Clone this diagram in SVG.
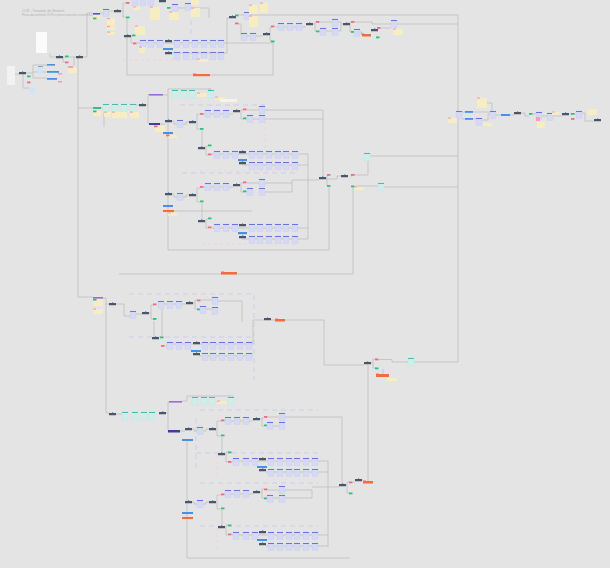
<svg xmlns="http://www.w3.org/2000/svg" width="610" height="568" viewBox="0 0 610 568">
<style>
.c{fill:none;stroke:#bcbcbc;stroke-width:0.75}
.dl{fill:none;stroke:#c5c7ea;stroke-width:0.7;stroke-dasharray:5 4}
.dp{fill:none;stroke:#efc9d0;stroke-width:0.6;stroke-dasharray:3 3}
.st{fill:#f6edc2}
.pk{fill:#f2a1b2}
.bb{fill:#4a8ee8}
.or{fill:#f26c3c}
.pu{fill:#9a6be0}
.nv{fill:#3f3f96}
.lb{fill:#cfe5f6}
.t{font-family:"Liberation Sans",Arial,sans-serif;fill:#b3b3b3}
</style>
<defs>
<g id="cd"><rect width="6" height="7.5" fill="#d6d9f4" stroke="#c3c8f0" stroke-width="0.3"/><rect width="6" height="0.9" fill="#5c69de"/></g>
<g id="cy"><rect width="6" height="8" fill="#cfeeea" stroke="#b3e2dc" stroke-width="0.3"/><rect width="6" height="0.9" fill="#3cb4a9"/></g>
<g id="dk"><rect width="7" height="2.2" rx="0.3" fill="#4d5564"/><rect x="3" y="-0.7" width="1.2" height="0.8" fill="#3d86e8"/></g>
<rect id="rd" width="3.5" height="1.8" fill="#ef6b85"/>
<rect id="gn" width="3.5" height="1.8" fill="#2fbf7f"/>
</defs>
<rect width="610" height="568" fill="#e4e4e4"/>
<text class="t" x="22" y="11.5" font-size="3.4">OCR - Template de Network</text>
<text class="t" x="22" y="15.5" font-size="3">Fluxo documental OCR e processamento automático</text>

<g id="connectors">
<path class="c" d="M15,74H19M25,73H33V65H47M33,73V78H47M33,72H47M23,74V88H29"/>
<path class="c" d="M50,53V57H56M62,57H76M82,57H87V13H93M63,57V62H65M74,57V66M78,58V297H93M78,108H93"/>
<path class="c" d="M100,13H103M108,11H114M121,11H123V3H126M123,11V17H126M127,18V75H273V42M130,36H132M131,36V43H133M137,43H273M172,53H227V18H229M177,8H209V18"/>
<path class="c" d="M238,15H458V362H414M238,24H241V35H241M247,36H250M256,36H263M268,34H270V27H272M270,34V41H272"/>
<path class="c" d="M276,27H306M313,24H315V22H316M315,24V31H316M320,22H332M325,31H332M338,22H341V24H343M338,31H341V24M349,24H350V22H351M350,24V32H351M355,22H372V24H458M359,32H362V35M377,28H391"/>
<path class="dp" d="M123,60H223"/>
<path class="dl" d="M191,20V35"/>
<path class="c" d="M101,108H103M136,105H139M146,105H148V123H149M148,105V94.5H149M104,110V127M163,95H168M168,89V250H329V187M168,89H211V90M208,89H211"/>
<path class="c" d="M160,124H165M171,121H174V124H177M183,124H186V122H189M195,122H197V114H200M197,122V129H200M204,114H233M239,111H241V110H243M241,111V119H243M247,110H259M247,119H259M265,110H323V177M265,119H323"/>
<path class="c" d="M202,130V147M205,148H206V146H208M206,148V155H208M212,154H308V239M242,165H308"/>
<path class="c" d="M171,194H174V197H177M183,197H186V195H189M195,195H197V188H200M197,195V202H200M204,187H233M239,185H241V183H243M241,185V192H243M247,183H292M265,192H292V180H319M174,211H252"/>
<path class="c" d="M202,203V220M205,221H206V219H208M206,221V228H208M212,228H308M242,239H308"/>
<path class="c" d="M326,178H327V175H328M327,178V186H328M326,179H337V176H341M350,176H352M354,175H368V161M370,156H458M356,186H378M384,187H458M353,187V274H119"/>
<path class="dl" d="M180,105H265M182,173H298"/>
<path class="dp" d="M200,171H298M202,244H300M265,115V150"/>
<path class="c" d="M103,298H106V413H109M106,304H109M116,304H124V316H130M136,314H142M148,313H151V305H154M151,313V319H154M158,304H186M193,303H195V300H197M195,303V309H197M206,309H212M201,300H218M218,301H242V322M154,321V337M162,309V337M165,346H167M166,344H250M199,356H250M250,344H253V320H264M250,356H253M271,320H275M285,320H324V365H364"/>
<path class="dl" d="M129,294H254V380M129,337H254"/>
<path class="c" d="M371,363H373V359H375M373,363V368H375M379,359.5H392V362H408M383,369V374M368,365V481"/>
<path class="c" d="M116,414H122M166,413H168V402H169M168,413V431M182,401H187V396H233V398M180,431H185M191,429H194V431H197M203,431H206V429H209M215,429H217V421H221M217,429V436H221M225,421H253M259,419H262V418H264M262,419V426H264M268,417H342V484M273,426H279M187,441V558H350"/>
<path class="c" d="M222,437V453M225,454H226V452H228M226,454V462H228M232,461H328M266,472H328M328,461V547"/>
<path class="c" d="M191,502H194V504H197M203,504H206V502H209M215,502H217V495H221M217,502V509H221M225,494H253M259,492H262V489H264M262,492V498H264M268,490H312V498M273,498H312M312,487H339M346,485H347V482H349M347,485V493H349M353,482H355M362,480H363"/>
<path class="c" d="M222,510V526M225,527H226V525H228M226,527V535H228M232,535H328M266,546H328"/>
<path class="dl" d="M200,410H318M196,453H318M200,483H318M200,526H318"/>
<path class="dl" d="M196,418V470"/>
<path class="dp" d="M217,455V477M217,528V550"/>
<path class="c" d="M462,112H465M462,119H465M473,112H490M473,119H476M482,120H488V114H490M487,103H492V111M495,115H501M510,115H514M520,113H525V116H529M533,114H536M541,116H547M552,116H562M570,114H571M575,114H576M582,113H585V121H594"/>
</g>

<g id="n-left">
<rect x="7" y="66" width="8" height="19" fill="#f2f2f2"/>
<rect x="36" y="32" width="11" height="21" fill="#fbfbfb"/>
<use href="#dk" x="19" y="72"/>
<use href="#gn" x="27" y="75.5"/>
<use href="#rd" x="27" y="81.5"/>
<rect class="lb" x="29" y="87" width="6" height="6"/>
<rect class="lb" x="38" y="66" width="5" height="8"/>
<rect x="38" y="66" width="5" height="0.8" fill="#4a9fe0"/>
<rect class="bb" x="47" y="64" width="8" height="1.6"/>
<rect class="bb" x="47" y="71" width="12" height="1.8"/>
<rect class="bb" x="47" y="78" width="10" height="1.8"/>
<rect class="pk" x="58" y="73" width="4" height="1.6"/>
<rect class="pk" x="58" y="81" width="4" height="1.6"/>
<use href="#dk" x="56" y="56"/>
<use href="#gn" x="65" y="55.5"/>
<use href="#dk" x="76" y="56"/>
<use href="#rd" x="65" y="61.5"/>
<rect class="pk" x="68" y="66" width="5" height="2"/>
<rect class="st" x="68" y="68" width="9" height="5"/>
</g>

<g id="n-a">
<rect x="93" y="13" width="7" height="1.6" fill="#4a58c8"/>
<rect class="st" x="93" y="15" width="7" height="4"/>
<use href="#gn" x="93" y="17.5"/>
<use href="#cd" x="103" y="9"/>
<use href="#dk" x="114" y="10"/>
<rect class="st" x="107" y="18" width="8" height="7"/><rect class="pk" x="107" y="18" width="3" height="1.2"/>
<rect class="st" x="107" y="26" width="8" height="4"/><rect class="pk" x="107" y="26" width="3" height="1.2"/>
<rect class="st" x="107" y="32" width="8" height="3"/><rect class="pk" x="107" y="31.5" width="3" height="1.2"/>
<use href="#rd" x="126" y="2"/>
<use href="#gn" x="126" y="16.5"/>
<use href="#cd" x="132" y="-2"/><use href="#cd" x="140" y="-2"/><use href="#cd" x="148" y="-2"/>
<use href="#dk" x="159" y="0"/>
<rect class="st" x="133" y="7" width="7" height="3"/><rect class="pk" x="133" y="6.5" width="3" height="1"/>
<rect class="st" x="150" y="7" width="10" height="13"/><rect class="pk" x="150" y="6.5" width="3" height="1.2"/>
<use href="#gn" x="167" y="7"/>
<use href="#cd" x="172" y="4"/>
<rect class="st" x="169" y="12" width="10" height="8"/><rect class="pk" x="169" y="11.5" width="3" height="1.2"/>
<use href="#cd" x="185" y="3"/>
<rect class="st" x="191" y="0" width="8" height="5"/>
<rect class="st" x="191" y="8" width="9" height="9"/><rect class="pk" x="191" y="7.5" width="3" height="1.2"/>
<rect class="st" x="135" y="26" width="10" height="9"/><rect class="pk" x="135" y="25.5" width="3" height="1.2"/>
<use href="#dk" x="124" y="35"/>
<use href="#gn" x="132" y="34.5"/>
<use href="#rd" x="133" y="42.5"/>
</g>

<g id="n-a-rows">
<use href="#cd" x="140" y="40"/><use href="#cd" x="148" y="40"/><use href="#cd" x="157" y="40"/>
<use href="#dk" x="165" y="40"/>
<use href="#cd" x="174" y="40"/><use href="#cd" x="183" y="40"/><use href="#cd" x="192" y="40"/><use href="#cd" x="201" y="40"/><use href="#cd" x="210" y="40"/><use href="#cd" x="218" y="40"/>
<rect class="bb" x="163" y="48" width="10" height="2"/>
<use href="#dk" x="165" y="52"/>
<use href="#cd" x="174" y="52"/><use href="#cd" x="183" y="52"/><use href="#cd" x="192" y="52"/><use href="#cd" x="201" y="52"/><use href="#cd" x="210" y="52"/><use href="#cd" x="218" y="52"/>
<rect class="st" x="139" y="47" width="6" height="6"/><rect class="pk" x="139" y="46.5" width="3" height="1.2"/>
<rect class="st" x="198" y="59" width="10" height="3"/><rect class="pk" x="197" y="58.5" width="3" height="1"/>
<rect class="or" x="193" y="74" width="17" height="2.2"/><rect x="193" y="73.5" width="3" height="1" fill="#ef6b85"/>
</g>

<g id="n-a-right">
<use href="#dk" x="229" y="16"/>
<use href="#gn" x="235" y="14.5"/>
<use href="#rd" x="235" y="22.5"/>
<use href="#cd" x="244" y="12"/>
<rect class="st" x="249" y="5" width="9" height="9"/><rect class="pk" x="249" y="4.5" width="3" height="1.2"/>
<rect class="st" x="260" y="3" width="8" height="10"/><rect class="pk" x="260" y="2.5" width="3" height="1.2"/>
<rect class="st" x="249" y="16" width="9" height="11"/><rect class="pk" x="249" y="15.5" width="3" height="1.2"/>
<use href="#cd" x="241" y="33"/><use href="#cd" x="250" y="33"/>
<use href="#dk" x="263" y="33"/>
<use href="#rd" x="271" y="25.5"/>
<use href="#gn" x="271" y="40.5"/>
<use href="#cd" x="278" y="23"/><use href="#cd" x="287" y="23"/><use href="#cd" x="296" y="23"/>
<use href="#dk" x="306" y="23"/>
<use href="#rd" x="316" y="21"/>
<use href="#gn" x="316" y="30.5"/>
<use href="#cd" x="320" y="28"/>
<use href="#cd" x="332" y="19"/><use href="#cd" x="332" y="28"/>
<use href="#dk" x="343" y="23"/>
<use href="#rd" x="351" y="21"/>
<use href="#gn" x="351" y="31"/>
<use href="#cd" x="354" y="29"/>
<rect class="or" x="362" y="34" width="9" height="2.5"/><rect x="361" y="33.5" width="3" height="1" fill="#ef6b85"/>
<use href="#dk" x="371" y="29"/>
<use href="#rd" x="377" y="27"/>
<use href="#gn" x="376" y="36.5"/>
<use href="#cd" x="391" y="20"/>
<rect class="st" x="393" y="29" width="10" height="6"/><rect class="pk" x="393" y="28.5" width="3" height="1.2"/>
</g>

<g id="n-b-head">
<rect x="93" y="107" width="8" height="2" fill="#49b391"/>
<rect class="st" x="93" y="111" width="8" height="5"/><use href="#gn" x="93" y="110.5"/>
<use href="#cy" x="103" y="104"/><use href="#cy" x="112" y="104"/><use href="#cy" x="121" y="104"/><use href="#cy" x="130" y="104"/>
<rect class="st" x="104" y="112" width="7" height="5"/><rect class="pk" x="104" y="111.5" width="3" height="1.2"/>
<rect class="st" x="112" y="112" width="15" height="6"/><rect class="pk" x="112" y="111.5" width="3" height="1.2"/>
<rect class="st" x="130" y="112" width="9" height="6"/><rect class="pk" x="130" y="111.5" width="3" height="1.2"/>
<use href="#dk" x="139" y="104"/>
<rect class="pu" x="149" y="94" width="14" height="1.6"/>
<rect class="nv" x="149" y="123" width="11" height="2"/>
<rect class="st" x="155" y="126" width="10" height="6"/><use href="#rd" x="154" y="125.5"/>
<use href="#cy" x="172" y="90"/><use href="#cy" x="181" y="90"/><use href="#cy" x="189" y="90"/><use href="#cy" x="208" y="90"/>
<rect class="st" x="197" y="93" width="10" height="4"/><rect class="pk" x="197" y="92.5" width="3" height="1.2"/>
<rect class="st" x="215" y="97" width="10" height="3"/><rect class="pk" x="215" y="96.5" width="3" height="1.2"/>
<rect x="220" y="99" width="17" height="3" fill="#f6f3ec"/>
</g>

<g id="n-b1">
<use href="#dk" x="165" y="120"/>
<use href="#cd" x="177" y="120"/>
<use href="#dk" x="189" y="121"/>
<use href="#rd" x="200" y="113"/>
<use href="#gn" x="200" y="128"/>
<use href="#cd" x="205" y="110"/><use href="#cd" x="214" y="110"/><use href="#cd" x="223" y="110"/>
<use href="#dk" x="233" y="110"/>
<use href="#rd" x="243" y="108.5"/>
<use href="#gn" x="243" y="117.5"/>
<use href="#cd" x="259" y="106"/><use href="#cd" x="259" y="115"/><use href="#cd" x="247" y="115"/>
<rect class="bb" x="163" y="132" width="10" height="2"/>
<rect class="st" x="168" y="135" width="9" height="3"/><use href="#rd" x="166" y="134.5"/>
<use href="#dk" x="198" y="147"/>
<use href="#gn" x="208" y="144.5"/>
<use href="#rd" x="208" y="153.5"/>
<use href="#cd" x="214" y="151"/><use href="#cd" x="223" y="151"/><use href="#cd" x="232" y="151"/>
<use href="#dk" x="239" y="151"/>
<use href="#cd" x="249" y="151"/><use href="#cd" x="257" y="151"/><use href="#cd" x="266" y="151"/><use href="#cd" x="275" y="151"/><use href="#cd" x="283" y="151"/><use href="#cd" x="292" y="151"/>
<rect class="bb" x="238" y="159" width="9" height="2.2"/>
<use href="#dk" x="239" y="162"/>
<use href="#cd" x="249" y="162"/><use href="#cd" x="257" y="162"/><use href="#cd" x="266" y="162"/><use href="#cd" x="275" y="162"/><use href="#cd" x="283" y="162"/><use href="#cd" x="292" y="162"/>
</g>

<g id="n-b2">
<use href="#dk" x="165" y="193"/>
<use href="#cd" x="177" y="193"/>
<use href="#dk" x="189" y="194"/>
<use href="#rd" x="200" y="186"/>
<use href="#gn" x="200" y="200.5"/>
<use href="#cd" x="205" y="183"/><use href="#cd" x="214" y="183"/><use href="#cd" x="223" y="183"/>
<use href="#dk" x="233" y="184"/>
<use href="#rd" x="243" y="181.5"/>
<use href="#gn" x="243" y="190.5"/>
<use href="#cd" x="259" y="179"/><use href="#cd" x="259" y="188"/><use href="#cd" x="247" y="188"/>
<rect class="bb" x="163" y="205" width="10" height="2"/>
<rect class="or" x="163" y="210" width="11" height="2"/>
<rect class="st" x="168" y="213" width="9" height="3"/><rect class="pk" x="168" y="212.5" width="3" height="1"/>
<use href="#dk" x="198" y="220"/>
<use href="#gn" x="208" y="217.5"/>
<use href="#rd" x="208" y="226.5"/>
<use href="#cd" x="214" y="224"/><use href="#cd" x="223" y="224"/><use href="#cd" x="232" y="224"/>
<use href="#dk" x="239" y="224"/>
<use href="#cd" x="249" y="224"/><use href="#cd" x="257" y="224"/><use href="#cd" x="266" y="224"/><use href="#cd" x="275" y="224"/><use href="#cd" x="283" y="224"/><use href="#cd" x="292" y="224"/>
<rect class="bb" x="238" y="232" width="9" height="2.2"/>
<use href="#dk" x="239" y="236"/>
<use href="#cd" x="249" y="236"/><use href="#cd" x="257" y="236"/><use href="#cd" x="266" y="236"/><use href="#cd" x="275" y="236"/><use href="#cd" x="283" y="236"/><use href="#cd" x="292" y="236"/>
<rect class="or" x="221" y="272" width="16" height="2.5"/><rect x="221" y="271.5" width="3" height="1" fill="#ef6b85"/>
</g>

<g id="n-mid">
<use href="#dk" x="319" y="177"/>
<use href="#rd" x="327" y="174"/>
<use href="#gn" x="327" y="185"/>
<use href="#dk" x="341" y="175"/>
<use href="#rd" x="351" y="174"/>
<use href="#gn" x="351" y="185.5"/>
<rect class="st" x="354" y="187" width="10" height="3"/><rect class="pk" x="354" y="186.5" width="3" height="1"/>
<use href="#cy" x="364" y="153"/>
<use href="#cy" x="378" y="183"/>
</g>

<g id="n-c">
<rect class="pu" x="93" y="297" width="10" height="1.6"/>
<rect class="st" x="93" y="299" width="10" height="3.5"/><use href="#gn" x="93" y="298.8"/>
<rect class="st" x="93" y="303" width="10" height="3"/>
<rect class="st" x="93" y="309" width="10" height="5"/><rect class="pk" x="93" y="308.5" width="3" height="1.2"/>
<use href="#dk" x="109" y="303"/>
<use href="#cd" x="130" y="311"/>
<use href="#dk" x="142" y="312"/>
<use href="#rd" x="153" y="303.5"/>
<use href="#gn" x="153" y="318"/>
<use href="#cd" x="158" y="301"/><use href="#cd" x="167" y="301"/><use href="#cd" x="176" y="301"/>
<use href="#dk" x="186" y="302"/>
<use href="#rd" x="197" y="299.5"/>
<use href="#gn" x="197" y="308.5"/>
<use href="#cd" x="200" y="306"/>
<use href="#cd" x="212" y="297"/><use href="#cd" x="212" y="307"/>
<use href="#dk" x="152" y="337"/>
<use href="#gn" x="160" y="336.5"/>
<use href="#rd" x="161" y="345"/>
<use href="#cd" x="167" y="342"/><use href="#cd" x="176" y="342"/><use href="#cd" x="185" y="342"/>
<use href="#dk" x="193" y="342"/>
<use href="#cd" x="202" y="342"/><use href="#cd" x="210" y="342"/><use href="#cd" x="219" y="342"/><use href="#cd" x="228" y="342"/><use href="#cd" x="237" y="342"/><use href="#cd" x="246" y="342"/>
<rect class="bb" x="191" y="350" width="10" height="2"/>
<use href="#dk" x="193" y="353"/>
<use href="#cd" x="202" y="353"/><use href="#cd" x="210" y="353"/><use href="#cd" x="219" y="353"/><use href="#cd" x="228" y="353"/><use href="#cd" x="237" y="353"/><use href="#cd" x="246" y="353"/>
<use href="#dk" x="264" y="318"/>
<rect class="or" x="275" y="319" width="10" height="2.5"/><rect x="275" y="318.5" width="3" height="1" fill="#ef6b85"/>
</g>

<g id="n-center">
<use href="#dk" x="364" y="362"/>
<use href="#rd" x="375" y="358.5"/>
<use href="#gn" x="375" y="367.5"/>
<rect class="or" x="376" y="374" width="13" height="3"/><rect x="376" y="373.5" width="3" height="1" fill="#ef6b85"/>
<rect class="st" x="387" y="378" width="10" height="3"/>
<use href="#cy" x="408" y="358"/>
</g>

<g id="n-d-head">
<use href="#dk" x="109" y="413"/>
<use href="#cy" x="122" y="412"/><use href="#cy" x="132" y="412"/><use href="#cy" x="141" y="412"/><use href="#cy" x="149" y="412"/>
<use href="#dk" x="159" y="412"/>
<rect class="pu" x="169" y="401" width="13" height="1.6"/>
<rect class="nv" x="168" y="430" width="12" height="2.5"/>
<use href="#cy" x="192" y="397"/><use href="#cy" x="201" y="397"/><use href="#cy" x="209" y="397"/><use href="#cy" x="228" y="397"/>
<rect class="st" x="217" y="401" width="10" height="3"/><rect class="pk" x="217" y="400.5" width="3" height="1.2"/>
</g>

<g id="n-d1">
<use href="#dk" x="185" y="428"/>
<use href="#cd" x="197" y="427"/>
<use href="#dk" x="209" y="428"/>
<use href="#rd" x="221" y="419.5"/>
<use href="#gn" x="221" y="434.5"/>
<use href="#cd" x="225" y="417"/><use href="#cd" x="234" y="417"/><use href="#cd" x="243" y="417"/>
<use href="#dk" x="253" y="418"/>
<use href="#rd" x="264" y="416"/>
<use href="#gn" x="264" y="424.5"/>
<use href="#cd" x="279" y="413"/><use href="#cd" x="279" y="422"/><use href="#cd" x="267" y="422"/>
<rect class="bb" x="182" y="439" width="11" height="2"/>
<use href="#dk" x="218" y="453"/>
<use href="#gn" x="228" y="451.5"/>
<use href="#rd" x="228" y="461"/>
<use href="#cd" x="233" y="458"/><use href="#cd" x="243" y="458"/><use href="#cd" x="252" y="458"/>
<use href="#dk" x="259" y="458"/>
<use href="#cd" x="268" y="458"/><use href="#cd" x="277" y="458"/><use href="#cd" x="286" y="458"/><use href="#cd" x="294" y="458"/><use href="#cd" x="303" y="458"/><use href="#cd" x="312" y="458"/>
<rect class="bb" x="257" y="466" width="10" height="2"/>
<use href="#dk" x="259" y="469"/>
<use href="#cd" x="268" y="469"/><use href="#cd" x="277" y="469"/><use href="#cd" x="286" y="469"/><use href="#cd" x="294" y="469"/><use href="#cd" x="303" y="469"/><use href="#cd" x="312" y="469"/>
</g>

<g id="n-d2">
<use href="#dk" x="185" y="501"/>
<use href="#cd" x="197" y="500"/>
<use href="#dk" x="209" y="501"/>
<use href="#rd" x="221" y="493.5"/>
<use href="#gn" x="221" y="507.5"/>
<use href="#cd" x="225" y="490"/><use href="#cd" x="234" y="490"/><use href="#cd" x="243" y="490"/>
<use href="#dk" x="253" y="491"/>
<use href="#rd" x="264" y="488.5"/>
<use href="#gn" x="264" y="497.5"/>
<use href="#cd" x="279" y="486"/><use href="#cd" x="279" y="495"/><use href="#cd" x="267" y="495"/>
<rect class="bb" x="182" y="512" width="11" height="2"/>
<rect class="or" x="182" y="517" width="11" height="2"/>
<use href="#dk" x="218" y="526"/>
<use href="#gn" x="228" y="524.5"/>
<use href="#rd" x="228" y="533.5"/>
<use href="#cd" x="233" y="532"/><use href="#cd" x="243" y="532"/><use href="#cd" x="252" y="532"/>
<use href="#dk" x="259" y="531"/>
<use href="#cd" x="268" y="532"/><use href="#cd" x="277" y="532"/><use href="#cd" x="286" y="532"/><use href="#cd" x="294" y="532"/><use href="#cd" x="303" y="532"/><use href="#cd" x="312" y="532"/>
<rect class="bb" x="257" y="539" width="10" height="2"/>
<use href="#dk" x="259" y="543"/>
<use href="#cd" x="268" y="543"/><use href="#cd" x="277" y="543"/><use href="#cd" x="286" y="543"/><use href="#cd" x="294" y="543"/><use href="#cd" x="303" y="543"/><use href="#cd" x="312" y="543"/>
</g>

<g id="n-d-end">
<use href="#dk" x="339" y="484"/>
<use href="#rd" x="349" y="481.5"/>
<use href="#gn" x="349" y="492.5"/>
<use href="#dk" x="355" y="479"/>
<rect class="or" x="363" y="481" width="10" height="2.5"/><rect x="363" y="480.5" width="3" height="1" fill="#ef6b85"/>
</g>

<g id="n-right">
<use href="#cd" x="456" y="111"/>
<rect class="st" x="448" y="118" width="9" height="5"/><rect class="pk" x="448" y="117.5" width="3" height="1.2"/>
<rect class="bb" x="465" y="111" width="8" height="1.8"/>
<rect class="bb" x="465" y="118" width="8" height="1.8"/>
<rect class="st" x="477" y="98" width="10" height="10"/><rect class="pk" x="477" y="97.5" width="3" height="1.2"/>
<use href="#cd" x="476" y="118"/>
<rect class="st" x="483" y="123" width="9" height="3"/>
<use href="#cd" x="490" y="111"/>
<rect class="bb" x="501" y="114" width="9" height="2"/>
<use href="#dk" x="514" y="112"/>
<use href="#gn" x="529" y="113"/>
<use href="#cd" x="536" y="112"/>
<rect class="pk" x="536" y="117" width="4" height="4"/>
<rect class="st" x="537" y="122" width="8" height="6"/>
<use href="#cd" x="547" y="113"/>
<rect class="st" x="552" y="112" width="7" height="3"/><rect class="pk" x="552" y="111.5" width="3" height="1"/>
<use href="#dk" x="562" y="113"/>
<use href="#gn" x="571" y="113"/>
<use href="#rd" x="571" y="118"/>
<use href="#cd" x="576" y="111"/>
<rect class="st" x="588" y="109" width="9" height="6"/>
<use href="#dk" x="594" y="119"/>
</g>
</svg>
